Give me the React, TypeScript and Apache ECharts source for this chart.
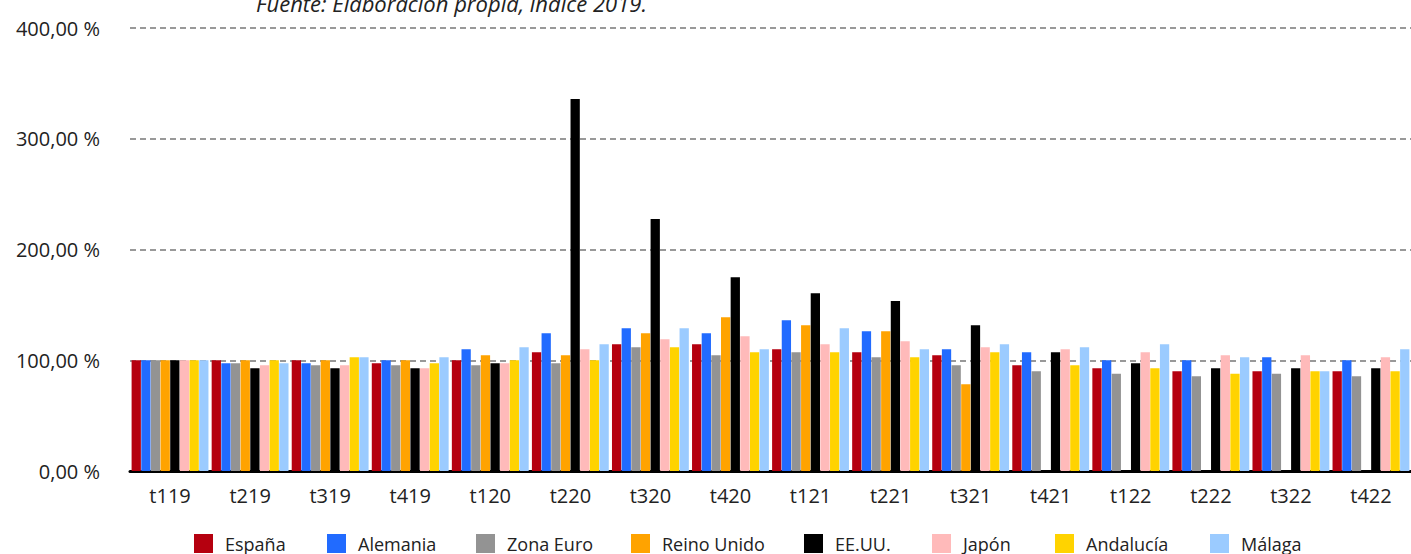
import React, { useEffect, useRef } from "react";
import * as echarts from "echarts";

const categories = ["t119", "t219", "t319", "t419", "t120", "t220", "t320", "t420", "t121", "t221", "t321", "t421", "t122", "t222", "t322", "t422"];

const seriesNames = ["España", "Alemania", "Zona Euro", "Reino Unido", "EE.UU.", "Japón", "Andalucía", "Málaga"];

const espana = [100, 100, 100, 97.3, 100, 107.2, 114.5, 114.5, 110, 107.2, 104.5, 95.5, 92.8, 90, 90, 90];
const alemania = [100, 97.3, 97.3, 100, 109.9, 124.4, 129, 124.4, 136.2, 126.2, 110, 107.2, 100, 100, 102.7, 100];
const zonaEuro = [100, 97.3, 95.5, 95.5, 95.5, 97.3, 111.8, 104.5, 107.2, 102.7, 95.5, 90, 87.8, 85.5, 87.8, 85.5];
const reinoUnido = [100, 100, 100, 100, 104.5, 104.5, 124.4, 138.9, 131.7, 126.2, 78.3, null, null, null, null, null];
const eeuu = [100, 92.8, 92.8, 92.8, 97.3, 336, 227.6, 175, 160.6, 153.4, 131.7, 107.2, 97.3, 92.8, 92.8, 92.8];
const japon = [100, 95.5, 95.5, 92.8, 97.3, 110, 119, 121.7, 114.5, 117.2, 111.8, 110, 107.2, 104.5, 104.5, 102.7];
const andalucia = [100, 100, 102.7, 97.3, 100, 100, 111.8, 107.2, 107.2, 102.7, 107.2, 95.5, 92.8, 87.8, 90, 90];
const malaga = [100, 97.3, 102.7, 102.7, 111.7, 114.5, 129, 110, 129, 110, 114.5, 111.8, 114.5, 102.7, 90, 110];

const seriesData = [espana, alemania, zonaEuro, reinoUnido, eeuu, japon, andalucia, malaga];
const colors = ["#B5000F", "#216BFF", "#939393", "#FFA300", "#000000", "#FFBABA", "#FFD300", "#9BCBFF"];
const legendLefts = [194, 327, 476, 631, 804, 932, 1055, 1210];

const yTicks = [0, 100, 200, 300, 400];
const sourceText = "Fuente: Elaboración propia, índice 2019.";

const FONT = "'Open Sans', 'Noto Sans', sans-serif";

export default function App() {
  const ref = useRef<HTMLDivElement>(null);
  useEffect(() => {
    if (!ref.current) return;
    const chart = echarts.init(ref.current, null, { renderer: "svg" });
    chart.setOption({
      animation: false,
      textStyle: { fontFamily: FONT },
      grid: { left: 130, right: -5, top: 28, bottom: 83, containLabel: false },
      graphic: [
        {
          type: "text",
          left: 256,
          top: -8,
          style: {
            text: sourceText,
            fontSize: 22,
            fontStyle: "italic",
            fontFamily: FONT,
            fill: "#222",
          },
        },
      ],
      legend: seriesNames.map((n, i) => ({
        data: [n],
        left: legendLefts[i],
        top: 534,
        padding: 0,
        itemWidth: 19,
        itemHeight: 19,
        icon: "rect",
        textStyle: { fontSize: 18, color: "#222", fontFamily: FONT, padding: [0, 0, 0, 7] },
      })),
      xAxis: {
        type: "category",
        data: categories,
        axisTick: { show: false },
        axisLine: { show: true, lineStyle: { color: "#000", width: 3 } },
        axisLabel: { fontSize: 20, color: "#222", margin: 14, fontFamily: FONT },
      },
      yAxis: {
        type: "value",
        min: yTicks[0],
        max: yTicks[yTicks.length - 1],
        interval: 100,
        axisLine: { show: false },
        axisTick: { show: false },
        axisLabel: {
          fontSize: 20,
          color: "#222",
          margin: 30,
          fontFamily: FONT,
          formatter: (v: number) => v.toFixed(2).replace(".", ",") + " %",
        },
        splitLine: { show: true, lineStyle: { color: "#999", width: 2, type: [6, 4] } },
      },
      series: seriesNames.map((n, i) => ({
        name: n,
        type: "bar",
        data: seriesData[i],
        itemStyle: { color: colors[i] },
        barGap: "4%",
        barCategoryGap: "4%",
      })),
    });
    return () => chart.dispose();
  }, []);
  return <div ref={ref} style={{ width: 1411, height: 554, position: "absolute", left: 0, top: 0 }} />;
}
